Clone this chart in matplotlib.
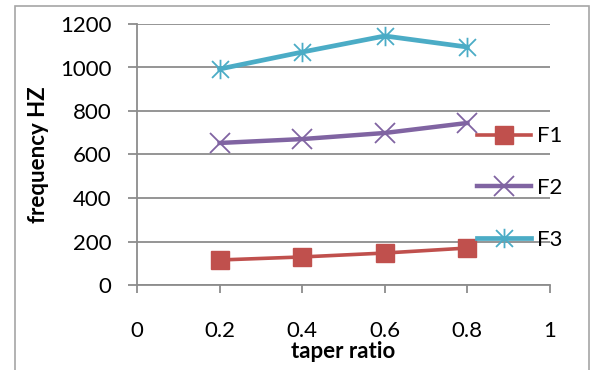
import matplotlib
matplotlib.use("Agg")
import matplotlib.pyplot as plt
from matplotlib.path import Path
from matplotlib.patches import Rectangle

# data
taper_ratio = [0.2, 0.4, 0.6, 0.8]
f1 = [115, 129, 147, 170]
f2 = [653, 671, 699, 745]
f3 = [993, 1071, 1145, 1094]
x_ticks = [0, 0.2, 0.4, 0.6, 0.8, 1]
x_labels = ["0", "0.2", "0.4", "0.6", "0.8", "1"]
y_ticks = [0, 200, 400, 600, 800, 1000, 1200]

plt.rcParams['font.family'] = ['Lato', 'DejaVu Sans']

# excel style star: an x with a vertical bar through it
star = Path([(-1, -1), (1, 1), (-1, 1), (1, -1), (0, -1.15), (0, 1.15)],
            [Path.MOVETO, Path.LINETO, Path.MOVETO, Path.LINETO, Path.MOVETO, Path.LINETO])

grey = "#8c8c8c"

fig = plt.figure(figsize=(5.95, 3.7), dpi=100)
ax = fig.add_axes([137/595, 1 - 285/370, (550 - 137)/595, (285 - 24)/370])

ax.plot(taper_ratio, f1, color="#C0504D", lw=2.6, marker="s", ms=13.5,
        label="F1", clip_on=False, zorder=3)
ax.plot(taper_ratio, f2, color="#8064A2", lw=3.2, marker="x", ms=14, mew=1.3,
        label="F2", clip_on=False, zorder=3)
ax.plot(taper_ratio, f3, color="#4BACC6", lw=3.4, marker=star, ms=14, mew=1.3,
        label="F3", clip_on=False, zorder=3)

ax.set_xlim(0, 1)
ax.set_ylim(0, 1200)
ax.set_xticks(x_ticks)
ax.set_xticklabels(x_labels)
ax.set_yticks(y_ticks)

ax.grid(axis="y", color=grey, lw=1.3)
ax.set_axisbelow(True)
for s in ["top", "right"]:
    ax.spines[s].set_visible(False)
ax.spines["left"].set_color(grey)
ax.spines["bottom"].set_color(grey)
ax.spines["left"].set_linewidth(1.3)
ax.spines["bottom"].set_linewidth(1.3)

ax.tick_params(axis="y", direction="out", length=6.5, width=1.3, color=grey,
               labelsize=16, pad=12)
ax.tick_params(axis="x", direction="out", length=6, width=1.3, color=grey,
               labelsize=16, pad=20)

ax.set_xlabel("taper ratio", fontsize=16, fontweight="bold", labelpad=0)
ax.set_ylabel("frequency HZ", fontsize=16, fontweight="bold", labelpad=8)

ax.legend(loc="center left", bbox_to_anchor=(477/595, 1 - 188/370),
          bbox_transform=fig.transFigure, frameon=False, fontsize=16,
          handlelength=2.45, handletextpad=0.25, labelspacing=1.42,
          borderpad=0, borderaxespad=0)

# outer chart border
fig.patches.append(Rectangle((15/595, -0.1), (589 - 15)/595, 1.1 - 6/370,
                             transform=fig.transFigure, fill=False,
                             edgecolor="#a6a6a6", lw=1.2))

fig.savefig("out.png", dpi=100)
